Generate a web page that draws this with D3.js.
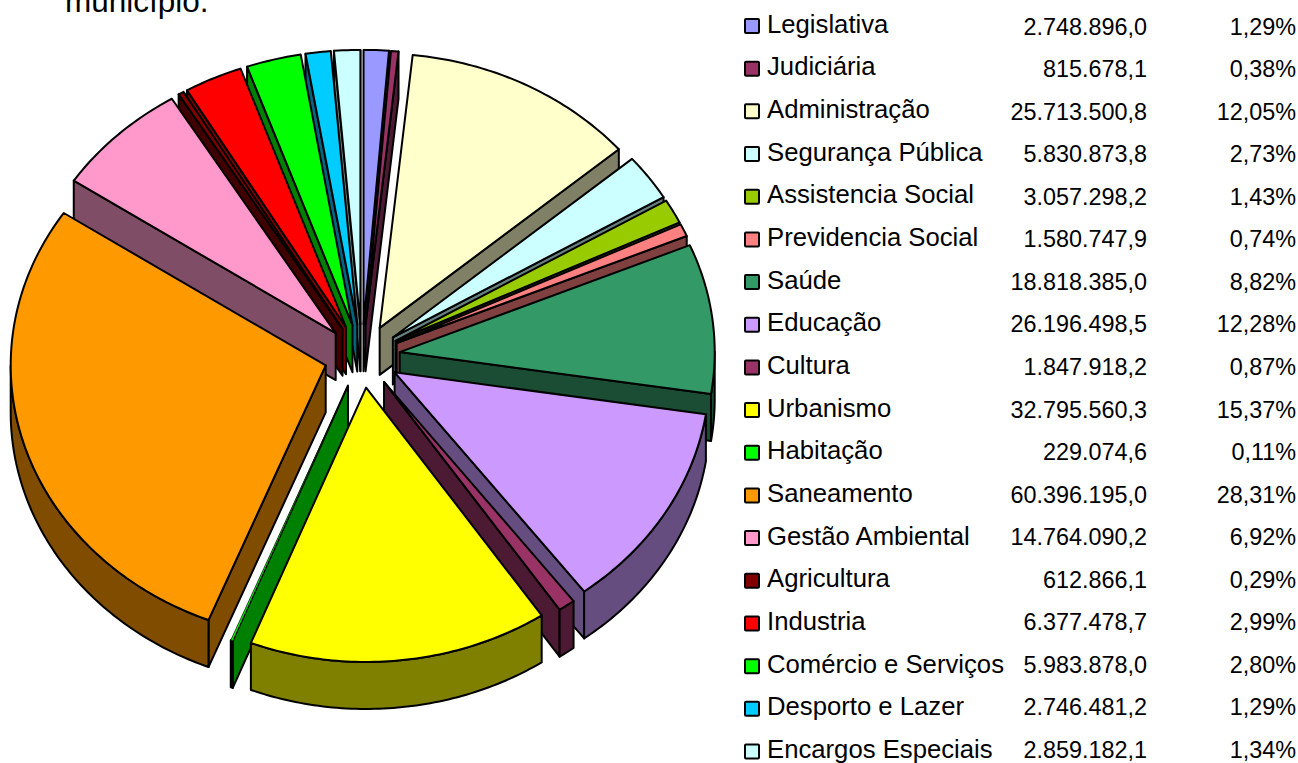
<!DOCTYPE html>
<html>
<head>
<meta charset="utf-8">
<script src="https://cdn.jsdelivr.net/npm/d3@7"></script>
<style>
  html, body { margin: 0; padding: 0; background: #fff; overflow: hidden; }
  text { font-family: "Liberation Sans", Arial, sans-serif; fill: #000; }
</style>
</head>
<body>
<svg></svg>
<script>
var categories = ["Legislativa", "Judiciária", "Administração", "Segurança Pública", "Assistencia Social",
    "Previdencia Social", "Saúde", "Educação", "Cultura", "Urbanismo", "Habitação", "Saneamento",
    "Gestão Ambiental", "Agricultura", "Industria", "Comércio e Serviços", "Desporto e Lazer", "Encargos Especiais"];
var values = [2748896.0, 815678.1, 25713500.8, 5830873.8, 3057298.2, 1580747.9, 18818385.0, 26196498.5, 1847918.2,
    32795560.3, 229074.6, 60396195.0, 14764090.2, 612866.1, 6377478.7, 5983878.0, 2746481.2, 2859182.1];
var percents = [1.29, 0.38, 12.05, 2.73, 1.43, 0.74, 8.82, 12.28, 0.87, 15.37, 0.11, 28.31, 6.92, 0.29, 2.99, 2.80, 1.29, 1.34];
var colors = ["#9999FF", "#993366", "#FFFFCC", "#CCFFFF", "#99CC00", "#FF8080", "#339966", "#CC99FF", "#993366",
    "#FFFF00", "#00FF00", "#FF9900", "#FF99CC", "#800000", "#FF0000", "#00FF00", "#00CCFF", "#CCFFFF"];

var svgWidth = 1298, svgHeight = 763;
var cx = 362, cy = 356, radius = 315, tilt = 0.871, explode = 38, depth = 47;

var svg = d3.select('svg')
    .attr('width', svgWidth)
    .attr('height', svgHeight)
    .style('display', 'block');

// title line cut off by the top of the picture
svg.append('text')
    .attr('x', 65)
    .attr('y', 12)
    .style('font-size', '31.5px')
    .text('município.');

var locale = d3.formatLocale({decimal: ",", thousands: ".", grouping: [3], currency: ["", ""]});
var fmtValue = locale.format(",.1f");
var fmtPercent = locale.format(".2f");

// flat 3D pie: the scales squash the circle into an ellipse
var x = d3.scaleLinear().domain([-1, 1]).range([cx - radius, cx + radius]);
var y = d3.scaleLinear().domain([-1, 1]).range([cy + radius * tilt, cy - radius * tilt]);

var slices = d3.pie().sort(null)(values);
slices.forEach(function(d) { d.mid = (d.startAngle + d.endAngle) / 2; });

function point(d, angle, r, drop) {
    var e = explode / radius;
    return [x(r * Math.sin(angle) + e * Math.sin(d.mid)),
            y(r * Math.cos(angle) + e * Math.cos(d.mid) * 0.96) + drop];
}

function arcAngles(a, b) {
    var n = Math.max(2, Math.ceil((b - a) / 0.015));
    return d3.range(n + 1).map(function(i) { return a + (b - a) * i / n; });
}

var line = d3.line();

function topPath(d) {
    var pts = [point(d, d.startAngle, 0, 0)];
    arcAngles(d.startAngle, d.endAngle).forEach(function(t) { pts.push(point(d, t, 1, 0)); });
    return line(pts) + 'Z';
}

function radialPath(d, angle) {
    return line([point(d, angle, 0, 0), point(d, angle, 1, 0), point(d, angle, 1, depth), point(d, angle, 0, depth)]) + 'Z';
}

function rimPath(d) {
    var a = Math.max(d.startAngle, Math.PI / 2), b = Math.min(d.endAngle, Math.PI * 3 / 2);
    if (b <= a) return null;
    var ts = arcAngles(a, b);
    var pts = ts.map(function(t) { return point(d, t, 1, 0); })
        .concat(ts.slice().reverse().map(function(t) { return point(d, t, 1, depth); }));
    return line(pts) + 'Z';
}

function shade(c) {
    var r = d3.rgb(c);
    return d3.rgb(r.r * 0.5, r.g * 0.5, r.b * 0.5).formatHex();
}

// back slices first, so the front ones paint over them
var order = slices.slice().sort(function(p, q) { return Math.cos(q.mid) - Math.cos(p.mid); });

var pieces = svg.selectAll('g.slice')
    .data(order)
    .enter()
    .append('g')
    .attr('class', 'slice')
    .attr('stroke', '#000')
    .attr('stroke-width', 2)
    .attr('stroke-linejoin', 'round');

pieces.each(function(d) {
    var g = d3.select(this), dark = shade(colors[d.index]);
    if (Math.sin(d.startAngle) < 0) g.append('path').attr('d', radialPath(d, d.startAngle)).attr('fill', dark);
    if (Math.sin(d.endAngle) > 0) g.append('path').attr('d', radialPath(d, d.endAngle)).attr('fill', dark);
    var rim = rimPath(d);
    if (rim) g.append('path').attr('d', rim).attr('fill', dark);
    // very thin slices need a finer outline or their colour disappears
    g.append('path').attr('d', topPath(d)).attr('fill', colors[d.index])
        .attr('stroke-width', (d.endAngle - d.startAngle) < 0.01 ? 0.7 : 2);
});

// legend table: the label and number columns drift apart by a couple of pixels towards the top
var last = categories.length - 1;
var swatchY = d3.scaleLinear().domain([0, last]).range([26, 751.5]);
var labelY = d3.scaleLinear().domain([0, last]).range([32.5, 758]);
var numberY = d3.scaleLinear().domain([0, last]).range([34.5, 758]);

var rows = svg.selectAll('g.row')
    .data(categories)
    .enter()
    .append('g')
    .attr('class', 'row');

rows.append('rect')
    .attr('x', 745)
    .attr('y', function(d, i) { return swatchY(i) - 7; })
    .attr('width', 14)
    .attr('height', 14)
    .attr('rx', 1)
    .attr('fill', function(d, i) { return colors[i]; })
    .attr('stroke', '#000')
    .attr('stroke-width', 2);

rows.append('text')
    .attr('x', 767)
    .attr('y', function(d, i) { return labelY(i); })
    .style('font-size', '25.7px')
    .text(function(d) { return d; });

rows.append('text')
    .attr('x', 1147)
    .attr('y', function(d, i) { return numberY(i); })
    .attr('text-anchor', 'end')
    .style('font-size', '23.4px')
    .text(function(d, i) { return fmtValue(values[i]); });

rows.append('text')
    .attr('x', 1296)
    .attr('y', function(d, i) { return numberY(i); })
    .attr('text-anchor', 'end')
    .style('font-size', '23.4px')
    .text(function(d, i) { return fmtPercent(percents[i]) + '%'; });
</script>
</body>
</html>
